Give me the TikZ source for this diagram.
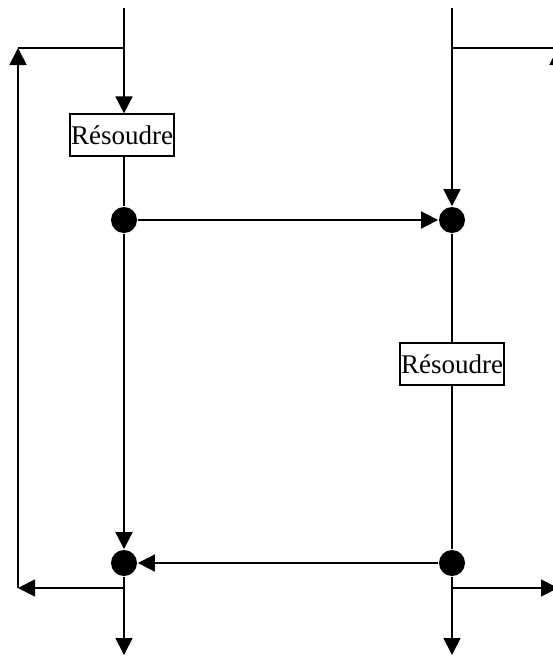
\documentclass[tikz,border=0pt]{standalone}
\usepackage{fontspec}
\setmainfont{Liberation Serif}
\usetikzlibrary{arrows.meta}
\begin{document}
\begin{tikzpicture}[x=1pt,y=-1pt,
  line width=1.8pt,
  arr/.style={-{Triangle[length=17pt,width=17pt]}},
  dot/.style={circle,fill=black,minimum size=26pt,inner sep=0pt},
  solvebox/.style={draw,line width=1.2pt,minimum width=104pt,minimum height=42pt,inner sep=0pt,font=\fontsize{27}{27}\selectfont}]
\useasboundingbox (0,0) rectangle (553,656);
\clip (0,0) rectangle (553,656);
% left column
\coordinate (ltop) at (124,8);
\coordinate (ljtop) at (124,48);
\node[solvebox] (lbox) at (122,135) {Résoudre};
\node[dot] (ld1) at (124,220) {};
\node[dot] (ld2) at (124,563) {};
\coordinate (ljbot) at (124,588);
\coordinate (lend) at (124,655);
\coordinate (lcb) at (18,588);
\coordinate (lct) at (18,48);
% right column
\coordinate (rtop) at (452,8);
\coordinate (rjtop) at (452,48);
\node[dot] (rd1) at (452,220) {};
\node[solvebox] (rbox) at (452,364) {Résoudre};
\node[dot] (rd2) at (452,563) {};
\coordinate (rjbot) at (452,588);
\coordinate (rend) at (452,655);
\coordinate (rcb) at (558,588);
\coordinate (rct) at (558,48);
% left connectors
\draw[arr] (ltop) -- (ltop |- lbox.north);
\draw (lbox.south -| ld1) -- (ld1);
\draw[arr] (ld1) -- (ld2);
\draw (ld2) -- (ljbot);
\draw[arr] (ljbot) -- (lend);
\draw[arr] (ljbot) -- (lcb);
\draw[arr] (lcb) -- (lct);
\draw (lct) -- (ljtop);
% right connectors
\draw[arr] (rtop) -- (rd1);
\draw (rd1) -- (rbox);
\draw (rbox) -- (rd2);
\draw (rd2) -- (rjbot);
\draw[arr] (rjbot) -- (rend);
\draw[arr] (rjbot) -- (rcb);
\draw[arr] (rcb) -- (rct);
\draw (rct) -- (rjtop);
% cross connectors
\draw[arr] (ld1) -- (rd1);
\draw[arr] (rd2) -- (ld2);
\end{tikzpicture}
\end{document}
